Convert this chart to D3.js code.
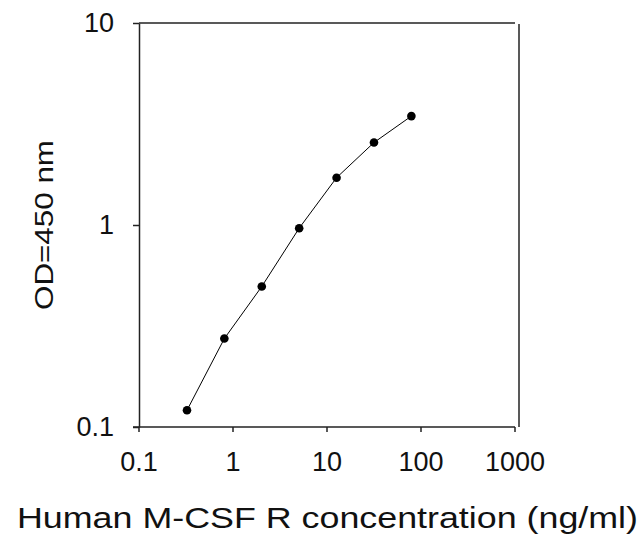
<!DOCTYPE html>
<html>
<head>
<meta charset="utf-8">
<title>M-CSF R standard curve</title>
<script src="https://cdn.jsdelivr.net/npm/d3@7"></script>
<style>
body { margin: 0; background: #fff; }
text { font-family: Arial, "Liberation Sans", sans-serif; fill: #111; }
</style>
</head>
<body>
<script>
// standard curve readings
var concentration = [0.328, 0.8192, 2.048, 5.12, 12.8, 32, 80];
var od450 = [0.121, 0.274, 0.496, 0.964, 1.715, 2.56, 3.46];
var xTicks = [0.1, 1, 10, 100, 1000];
var yTicks = [0.1, 1, 10];
var xTitle = "Human M-CSF R concentration (ng/ml)";
var yTitle = "OD=450 nm";

var width = 641, height = 552;

var svg = d3.select("body").append("svg")
  .attr("width", width)
  .attr("height", height);

var x = d3.scaleLog().domain([0.1, 1000]).range([138.5, 514.5]);
var y = d3.scaleLog().domain([0.1, 10]).range([427, 23]);

var fmt = function(d) { return String(d); };

// x axis
var gx = svg.append("g")
  .attr("transform", "translate(0,427)")
  .call(d3.axisBottom(x).tickValues(xTicks).tickFormat(fmt).tickSize(5).tickPadding(20).tickSizeOuter(0));
gx.select(".domain").attr("d", "M133,0H515");
gx.selectAll("line").attr("stroke", "#222").attr("stroke-width", 1.5);
gx.select(".domain").attr("stroke", "#222").attr("stroke-width", 1.5);
gx.selectAll("text").style("font-size", "27px").attr("fill", "#111");

// y axis
var gy = svg.append("g")
  .attr("transform", "translate(139,0)")
  .call(d3.axisLeft(y).tickValues(yTicks).tickFormat(fmt).tickSize(6).tickPadding(19).tickSizeOuter(0));
gy.selectAll("line").attr("stroke", "#222").attr("stroke-width", 1.5);
gy.select(".domain").attr("stroke", "#222").attr("stroke-width", 1.5);
gy.selectAll("text").style("font-size", "27px").attr("fill", "#111");

// top and right border
svg.append("line")
  .attr("x1", 139).attr("x2", 515)
  .attr("y1", y(10)).attr("y2", y(10))
  .attr("stroke", "#222").attr("stroke-width", 1.5);
svg.append("line")
  .attr("x1", 519).attr("x2", 519)
  .attr("y1", y(10) + 1).attr("y2", y(0.1))
  .attr("stroke", "#222").attr("stroke-width", 1.5);

var pts = concentration.map(function(c, i) { return [c, od450[i]]; });

svg.append("path")
  .datum(pts)
  .attr("fill", "none")
  .attr("stroke", "#000")
  .attr("stroke-width", 1)
  .attr("d", d3.line().x(function(d) { return x(d[0]); }).y(function(d) { return y(d[1]); }));

svg.selectAll("circle.pt")
  .data(pts)
  .enter()
  .append("circle")
  .attr("class", "pt")
  .attr("cx", function(d) { return x(d[0]); })
  .attr("cy", function(d) { return y(d[1]); })
  .attr("r", 4.3)
  .attr("fill", "#000");

// axis titles
svg.append("text")
  .attr("x", 17)
  .attr("y", 528)
  .attr("textLength", 621)
  .attr("lengthAdjust", "spacingAndGlyphs")
  .style("font-size", "29px")
  .text(xTitle);

svg.append("g")
  .attr("transform", "translate(53,225)")
  .append("text")
  .attr("transform", "rotate(-90)")
  .attr("x", -85)
  .attr("textLength", 170)
  .attr("lengthAdjust", "spacingAndGlyphs")
  .style("font-size", "25px")
  .text(yTitle);
</script>
</body>
</html>
